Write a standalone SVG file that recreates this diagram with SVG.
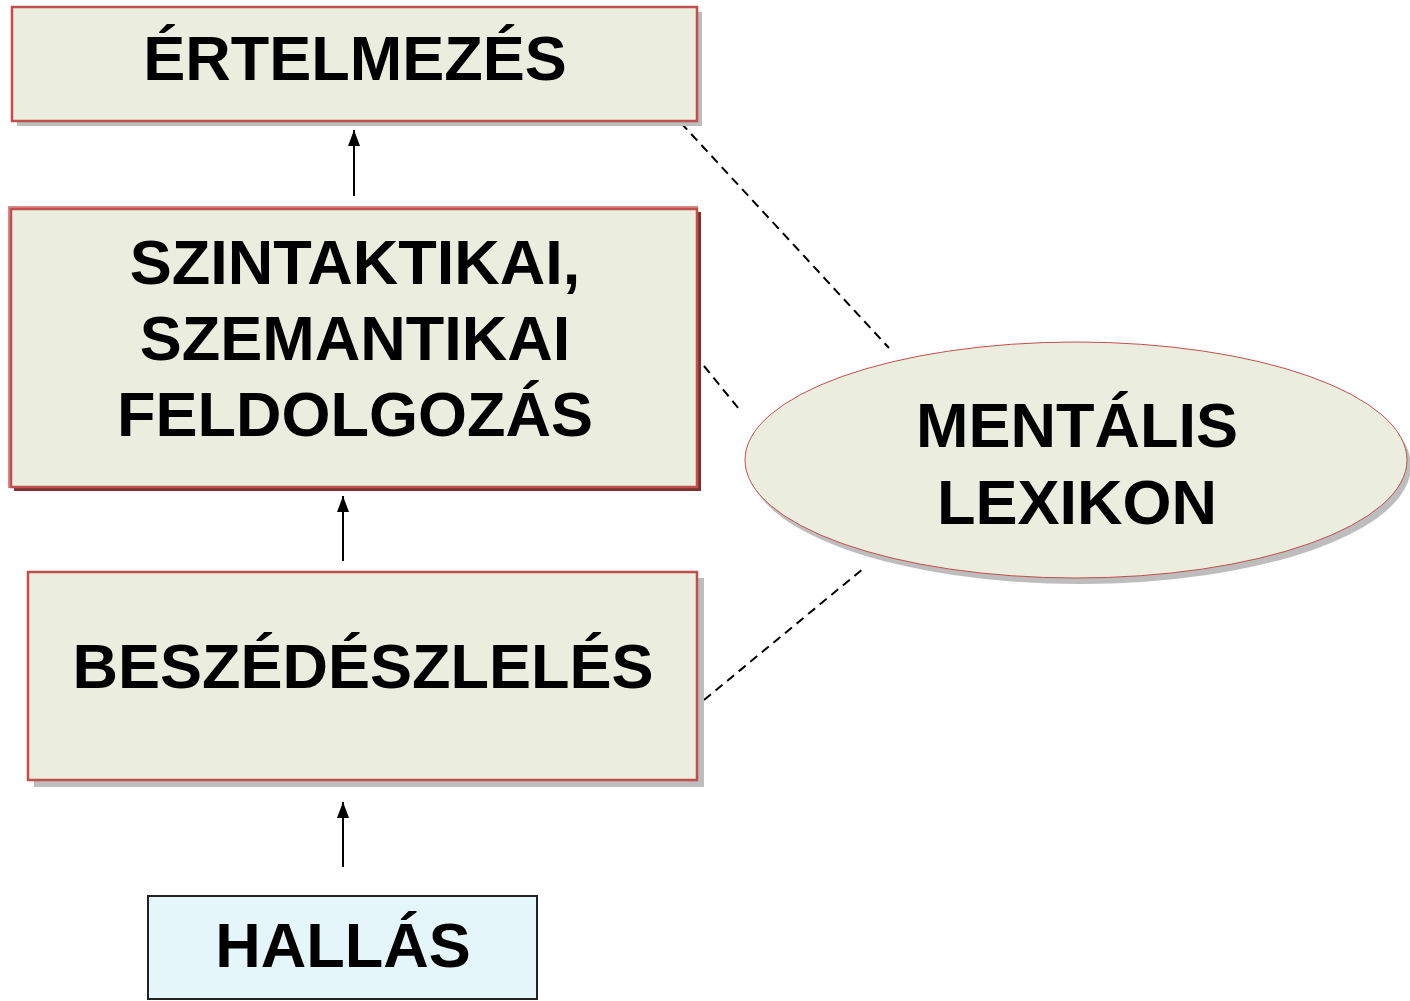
<svg xmlns="http://www.w3.org/2000/svg" width="1410" height="1001" viewBox="0 0 1410 1001">
<style>
.t{font-family:"Liberation Sans",Arial,sans-serif;font-weight:bold;font-size:63px;fill:#000;text-anchor:middle}
.box{fill:#EBEEDE;stroke:#C0504D;stroke-width:2.5}
.sh{fill:#BDBDBD}
.dash{stroke:#000;stroke-width:2;stroke-dasharray:9 6;fill:none}
.arr{stroke:#000;stroke-width:2;fill:none}
</style>
<defs>
<marker id="ah" viewBox="0 0 12 16" refX="12" refY="6" markerWidth="12" markerHeight="16" markerUnits="userSpaceOnUse" orient="auto">
<path d="M0,0 L16,6 L0,12 Z" fill="#000" transform="scale(0.75,1)"/>
</marker>
<marker id="a2" viewBox="0 0 16 12" refX="16" refY="6" markerWidth="16" markerHeight="12" markerUnits="userSpaceOnUse" orient="auto">
<path d="M0,0 L16,6 L0,12 Z" fill="#000"/>
</marker>
</defs>
<g id="connectors">
<line class="arr" x1="354" y1="196" x2="354" y2="130" marker-end="url(#a2)"/>
<line class="arr" x1="343" y1="561" x2="343" y2="496" marker-end="url(#a2)"/>
<line class="arr" x1="343" y1="867" x2="343" y2="802" marker-end="url(#a2)"/>
<line class="dash" x1="681" y1="123" x2="889" y2="348"/>
<line class="dash" x1="704" y1="366" x2="739" y2="409"/>
<line class="dash" x1="704" y1="700" x2="864" y2="568"/>
</g>
<g id="ertelmezes">
<rect class="sh" x="17" y="12" width="685" height="114"/>
<rect class="box" x="12" y="7" width="685" height="114"/>
<text class="t" x="355" y="80">ÉRTELMEZÉS</text>
</g>
<g id="szintaktikai">
<rect x="14" y="212" width="687" height="279" fill="#7F2F2F"/>
<rect x="9" y="207" width="688" height="280" fill="#EBEEDE" stroke="#D98A88" stroke-width="2"/>
<rect x="11" y="209" width="686" height="278" class="box" stroke-width="2"/>
<text class="t" x="355" y="284">SZINTAKTIKAI,</text>
<text class="t" x="355" y="360">SZEMANTIKAI</text>
<text class="t" x="355" y="436">FELDOLGOZÁS</text>
</g>
<g id="beszedeszleles">
<rect class="sh" x="34" y="578" width="670" height="209"/>
<rect class="box" x="28" y="572" width="669" height="208" stroke-width="1.5"/>
<text class="t" x="363" y="688" font-size="62">BESZÉDÉSZLELÉS</text>
</g>
<g id="hallas">
<rect x="148" y="896" width="389" height="103" fill="#E4F6F9" stroke="#222" stroke-width="2"/>
<text class="t" x="343" y="967">HALLÁS</text>
</g>
<g id="mentalis">
<ellipse cx="1080" cy="466" rx="331" ry="118" fill="#BDBDBD"/>
<ellipse cx="1076" cy="460" rx="331" ry="118" fill="#EBEEDE" stroke="#C0504D" stroke-width="1"/>
<text class="t" x="1077" y="447">MENTÁLIS</text>
<text class="t" x="1077" y="524">LEXIKON</text>
</g>
</svg>
